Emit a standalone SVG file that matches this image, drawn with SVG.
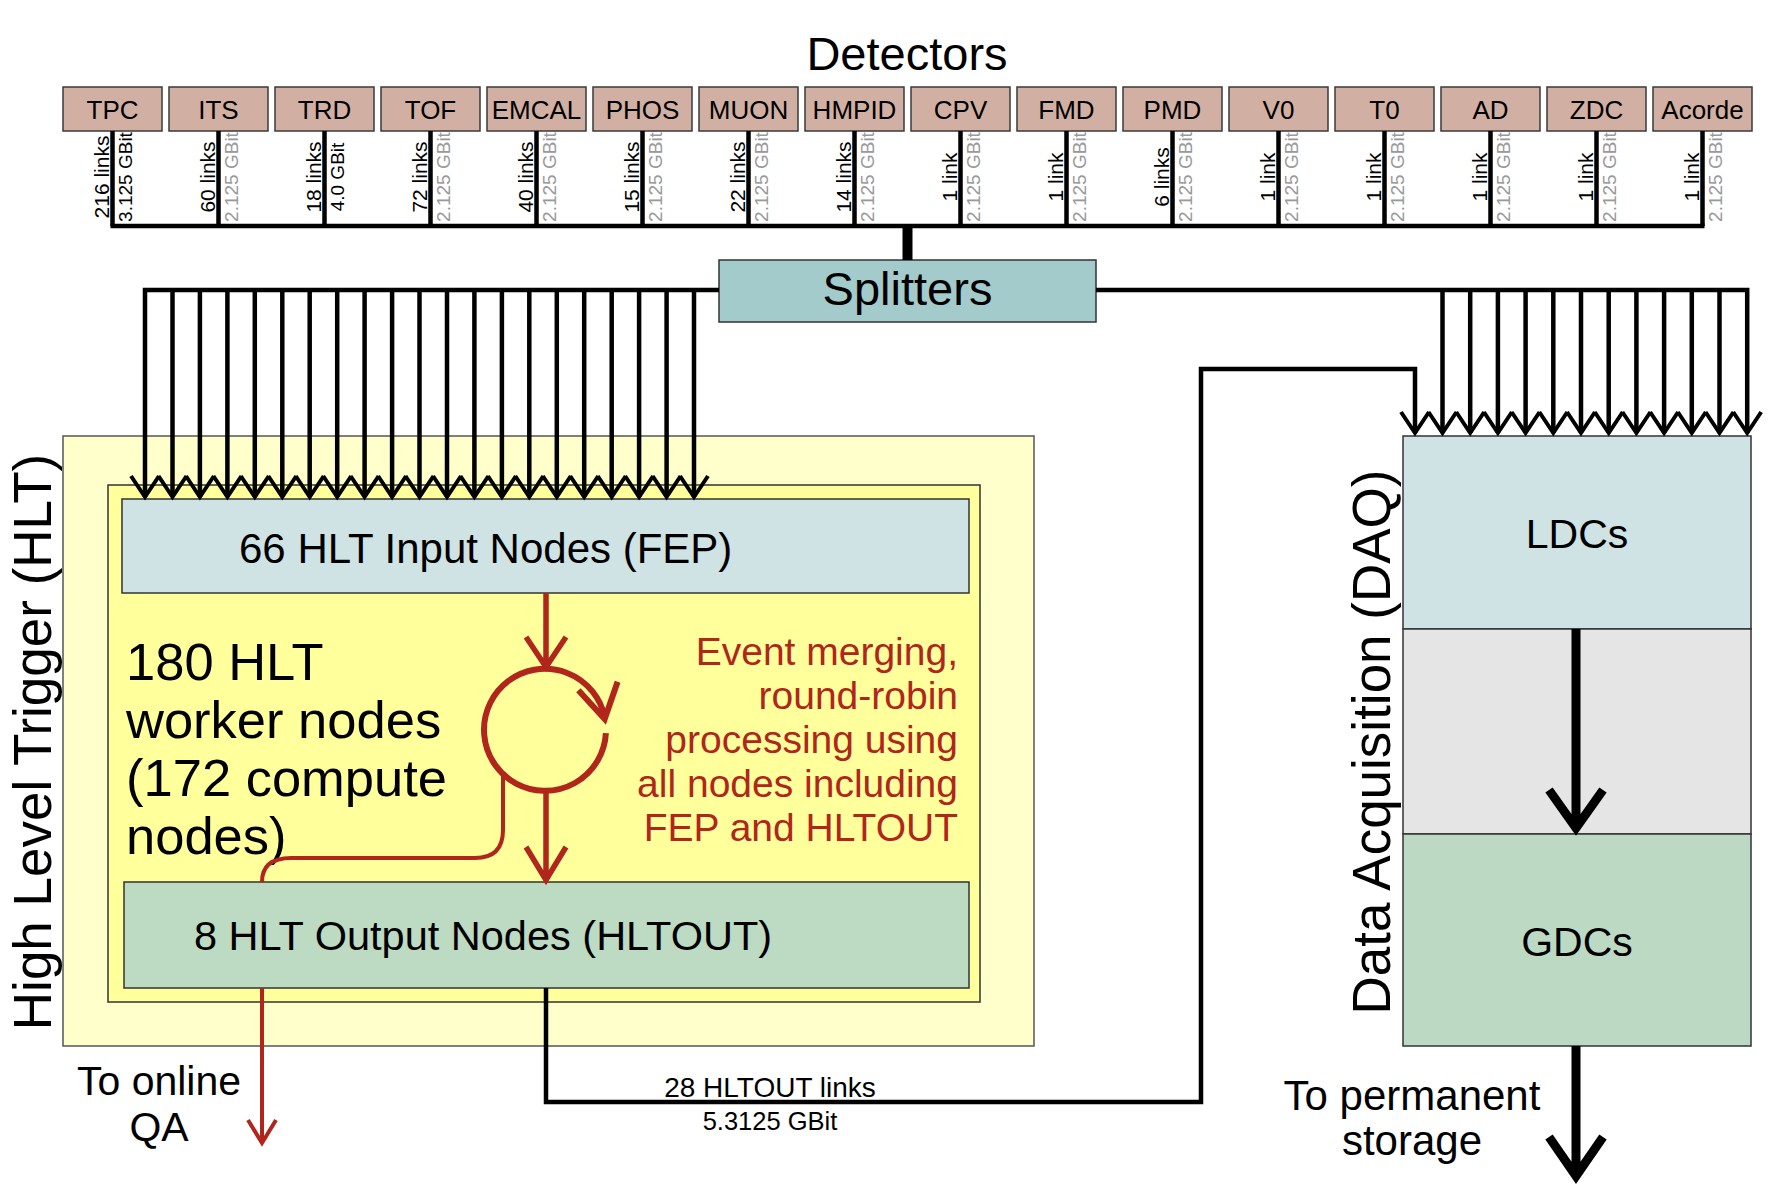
<svg xmlns="http://www.w3.org/2000/svg" xmlns:xlink="http://www.w3.org/1999/xlink" width="1768" height="1198" viewBox="0 0 1768 1198">
<style>
text { font-family: "Liberation Sans", Arial, sans-serif; fill:#000; }
.det rect { fill:#d1b0a3; stroke:#3a3a3a; stroke-width:1.5; }
.det text { font-size:26px; text-anchor:middle; }
.lk { font-size:21px; text-anchor:middle; }
.gb { font-size:19px; text-anchor:middle; fill:#999; }
.gbk { font-size:19px; text-anchor:middle; fill:#000; }
.box { stroke:#333; stroke-width:1.5; }
.blk { stroke:#000; fill:none; stroke-width:4.5; }
.chev { stroke:#000; fill:none; stroke-width:4; }
.red { stroke:#b0261c; fill:none; }
.redt { fill:#b0261c; font-size:39px; text-anchor:end; }
</style>
<defs>
<path id="chev" d="M-14 -21 L0 0 L14 -21" class="chev"/>
</defs>
<rect width="1768" height="1198" fill="#fff"/>

<text x="907" y="70" font-size="47" text-anchor="middle">Detectors</text>

<g id="detectors">
<g id="det-TPC" class="det"><rect x="63" y="87" width="99" height="44"/><text x="112.5" y="119">TPC</text></g>
<g id="det-ITS" class="det"><rect x="169" y="87" width="99" height="44"/><text x="218.5" y="119">ITS</text></g>
<g id="det-TRD" class="det"><rect x="275" y="87" width="99" height="44"/><text x="324.5" y="119">TRD</text></g>
<g id="det-TOF" class="det"><rect x="381" y="87" width="99" height="44"/><text x="430.5" y="119">TOF</text></g>
<g id="det-EMCAL" class="det"><rect x="487" y="87" width="99" height="44"/><text x="536.5" y="119">EMCAL</text></g>
<g id="det-PHOS" class="det"><rect x="593" y="87" width="99" height="44"/><text x="642.5" y="119">PHOS</text></g>
<g id="det-MUON" class="det"><rect x="699" y="87" width="99" height="44"/><text x="748.5" y="119">MUON</text></g>
<g id="det-HMPID" class="det"><rect x="805" y="87" width="99" height="44"/><text x="854.5" y="119">HMPID</text></g>
<g id="det-CPV" class="det"><rect x="911" y="87" width="99" height="44"/><text x="960.5" y="119">CPV</text></g>
<g id="det-FMD" class="det"><rect x="1017" y="87" width="99" height="44"/><text x="1066.5" y="119">FMD</text></g>
<g id="det-PMD" class="det"><rect x="1123" y="87" width="99" height="44"/><text x="1172.5" y="119">PMD</text></g>
<g id="det-V0" class="det"><rect x="1229" y="87" width="99" height="44"/><text x="1278.5" y="119">V0</text></g>
<g id="det-T0" class="det"><rect x="1335" y="87" width="99" height="44"/><text x="1384.5" y="119">T0</text></g>
<g id="det-AD" class="det"><rect x="1441" y="87" width="99" height="44"/><text x="1490.5" y="119">AD</text></g>
<g id="det-ZDC" class="det"><rect x="1547" y="87" width="99" height="44"/><text x="1596.5" y="119">ZDC</text></g>
<g id="det-Acorde" class="det"><rect x="1653" y="87" width="99" height="44"/><text x="1702.5" y="119">Acorde</text></g>
</g>

<g id="link-labels">
<text class="lk" transform="translate(109,177) rotate(-90)">216 links</text>
<text class="gbk" transform="translate(132,177) rotate(-90)">3.125 GBit</text>
<text class="lk" transform="translate(215,177) rotate(-90)">60 links</text>
<text class="gb" transform="translate(238,177) rotate(-90)">2.125 GBit</text>
<text class="lk" transform="translate(321,177) rotate(-90)">18 links</text>
<text class="gbk" transform="translate(344,177) rotate(-90)">4.0 GBit</text>
<text class="lk" transform="translate(427,177) rotate(-90)">72 links</text>
<text class="gb" transform="translate(450,177) rotate(-90)">2.125 GBit</text>
<text class="lk" transform="translate(533,177) rotate(-90)">40 links</text>
<text class="gb" transform="translate(556,177) rotate(-90)">2.125 GBit</text>
<text class="lk" transform="translate(639,177) rotate(-90)">15 links</text>
<text class="gb" transform="translate(662,177) rotate(-90)">2.125 GBit</text>
<text class="lk" transform="translate(745,177) rotate(-90)">22 links</text>
<text class="gb" transform="translate(768,177) rotate(-90)">2.125 GBit</text>
<text class="lk" transform="translate(851,177) rotate(-90)">14 links</text>
<text class="gb" transform="translate(874,177) rotate(-90)">2.125 GBit</text>
<text class="lk" transform="translate(957,177) rotate(-90)">1 link</text>
<text class="gb" transform="translate(980,177) rotate(-90)">2.125 GBit</text>
<text class="lk" transform="translate(1063,177) rotate(-90)">1 link</text>
<text class="gb" transform="translate(1086,177) rotate(-90)">2.125 GBit</text>
<text class="lk" transform="translate(1169,177) rotate(-90)">6 links</text>
<text class="gb" transform="translate(1192,177) rotate(-90)">2.125 GBit</text>
<text class="lk" transform="translate(1275,177) rotate(-90)">1 link</text>
<text class="gb" transform="translate(1298,177) rotate(-90)">2.125 GBit</text>
<text class="lk" transform="translate(1381,177) rotate(-90)">1 link</text>
<text class="gb" transform="translate(1404,177) rotate(-90)">2.125 GBit</text>
<text class="lk" transform="translate(1487,177) rotate(-90)">1 link</text>
<text class="gb" transform="translate(1510,177) rotate(-90)">2.125 GBit</text>
<text class="lk" transform="translate(1593,177) rotate(-90)">1 link</text>
<text class="gb" transform="translate(1616,177) rotate(-90)">2.125 GBit</text>
<text class="lk" transform="translate(1699,177) rotate(-90)">1 link</text>
<text class="gb" transform="translate(1722,177) rotate(-90)">2.125 GBit</text>
</g>

<g id="splitters">
<rect x="719" y="260" width="377" height="62" fill="#a3cbcb" class="box"/>
<text x="907.5" y="305" font-size="47" text-anchor="middle">Splitters</text>
</g>

<g id="hlt">
<rect x="63" y="436" width="971" height="610" fill="#ffffcc" stroke="#555" stroke-width="1.5"/>
<text transform="translate(51,742) rotate(-90)" font-size="53" text-anchor="middle">High Level Trigger (HLT)</text>
<g id="hlt-workers">
<rect x="108" y="485" width="872" height="517" fill="#ffff9c" class="box"/>
<text x="126" y="680" font-size="52.5">180 HLT</text>
<text x="126" y="738" font-size="52.5">worker nodes</text>
<text x="126" y="796" font-size="52.5">(172 compute</text>
<text x="126" y="854" font-size="52.5">nodes)</text>
<text class="redt" x="958" y="665">Event merging,</text>
<text class="redt" x="958" y="709">round-robin</text>
<text class="redt" x="958" y="753">processing using</text>
<text class="redt" x="958" y="797">all nodes including</text>
<text class="redt" x="958" y="841">FEP and HLTOUT</text>
</g>
<g id="hlt-fep">
<rect x="122" y="499" width="847" height="94" fill="#cfe2e4" class="box"/>
<text x="239" y="563" font-size="42">66 HLT Input Nodes (FEP)</text>
</g>
<g id="hlt-out">
<rect x="124" y="882" width="845" height="106" fill="#bddac2" class="box"/>
<text x="194" y="950" font-size="41.5">8 HLT Output Nodes (HLTOUT)</text>
</g>
</g>

<g id="daq">
<text transform="translate(1390,742) rotate(-90)" font-size="53" text-anchor="middle">Data Acquisition (DAQ)</text>
<g id="daq-ldc"><rect x="1403" y="436" width="348" height="193" fill="#cfe2e4" class="box"/><text x="1577" y="548" font-size="41" text-anchor="middle">LDCs</text></g>
<rect id="daq-gap" x="1403" y="629" width="348" height="205" fill="#e5e5e5" class="box"/>
<g id="daq-gdc"><rect x="1403" y="834" width="348" height="212" fill="#bcdac3" class="box"/><text x="1577" y="956" font-size="41" text-anchor="middle">GDCs</text></g>
</g>

<g id="free-labels">
<text x="159" y="1095" font-size="41" text-anchor="middle">To online</text>
<text x="159" y="1141" font-size="41" text-anchor="middle">QA</text>
<text x="1412" y="1110" font-size="42" text-anchor="middle">To permanent</text>
<text x="1412" y="1155" font-size="42" text-anchor="middle">storage</text>
<text x="770" y="1097" font-size="28" text-anchor="middle">28 HLTOUT links</text>
<text x="770" y="1130" font-size="25.5" text-anchor="middle">5.3125 GBit</text>
</g>

<g id="connectors">
<path class="blk" d="M112.5 131V226 M218.5 131V226 M324.5 131V226 M430.5 131V226 M536.5 131V226 M642.5 131V226 M748.5 131V226 M854.5 131V226 M960.5 131V226 M1066.5 131V226 M1172.5 131V226 M1278.5 131V226 M1384.5 131V226 M1490.5 131V226 M1596.5 131V226 M1702.5 131V226"/>
<path class="blk" stroke-width="5" d="M110.5 226H1704.5"/>
<path stroke="#000" stroke-width="10" d="M907.5 226V260"/>
<path class="blk" d="M719 290H145V497 M172.5 290V497 M199.9 290V497 M227.4 290V497 M254.8 290V497 M282.3 290V497 M309.7 290V497 M337.2 290V497 M364.6 290V497 M392.1 290V497 M419.5 290V497 M447 290V497 M474.4 290V497 M501.9 290V497 M529.3 290V497 M556.8 290V497 M584.2 290V497 M611.7 290V497 M639.1 290V497 M666.6 290V497 M694 290V497" stroke-width="4"/>
<g>
<use xlink:href="#chev" x="145" y="497"/><use xlink:href="#chev" x="172.5" y="497"/><use xlink:href="#chev" x="199.9" y="497"/><use xlink:href="#chev" x="227.4" y="497"/><use xlink:href="#chev" x="254.8" y="497"/><use xlink:href="#chev" x="282.3" y="497"/><use xlink:href="#chev" x="309.7" y="497"/><use xlink:href="#chev" x="337.2" y="497"/><use xlink:href="#chev" x="364.6" y="497"/><use xlink:href="#chev" x="392.1" y="497"/><use xlink:href="#chev" x="419.5" y="497"/><use xlink:href="#chev" x="447" y="497"/><use xlink:href="#chev" x="474.4" y="497"/><use xlink:href="#chev" x="501.9" y="497"/><use xlink:href="#chev" x="529.3" y="497"/><use xlink:href="#chev" x="556.8" y="497"/><use xlink:href="#chev" x="584.2" y="497"/><use xlink:href="#chev" x="611.7" y="497"/><use xlink:href="#chev" x="639.1" y="497"/><use xlink:href="#chev" x="666.6" y="497"/><use xlink:href="#chev" x="694" y="497"/>
</g>
<path class="blk" d="M1096 290H1747.2V433 M1442.5 290V433 M1470.2 290V433 M1497.9 290V433 M1525.6 290V433 M1553.3 290V433 M1581 290V433 M1608.7 290V433 M1636.4 290V433 M1664.1 290V433 M1691.8 290V433 M1719.5 290V433" stroke-width="4"/>
<path class="blk" d="M546 988V1102H1201V369H1415V433"/>
<g>
<use xlink:href="#chev" x="1415" y="433"/><use xlink:href="#chev" x="1442.5" y="433"/><use xlink:href="#chev" x="1470.2" y="433"/><use xlink:href="#chev" x="1497.9" y="433"/><use xlink:href="#chev" x="1525.6" y="433"/><use xlink:href="#chev" x="1553.3" y="433"/><use xlink:href="#chev" x="1581" y="433"/><use xlink:href="#chev" x="1608.7" y="433"/><use xlink:href="#chev" x="1636.4" y="433"/><use xlink:href="#chev" x="1664.1" y="433"/><use xlink:href="#chev" x="1691.8" y="433"/><use xlink:href="#chev" x="1719.5" y="433"/><use xlink:href="#chev" x="1747.2" y="433"/>
</g>
<path stroke="#000" stroke-width="9" fill="none" d="M1576 629V826 M1549 790L1576 828L1603 790"/>
<path stroke="#000" stroke-width="9" fill="none" d="M1576 1046V1176 M1549 1137L1576 1176L1603 1137"/>
<path class="red" stroke-width="5.5" d="M546 593V666 M526 637L546 667L566 637"/>
<path class="red" stroke-width="6" d="M605.9 733.2A61 61 0 1 1 604.7 717.3"/>
<path class="red" stroke-width="6" d="M578.4 690.2L604.7 719L617.6 681.8"/>
<path class="red" stroke-width="5.5" d="M546 791V879 M526 847L546 880L566 847"/>
<path class="red" stroke-width="4" d="M503 774V830Q503 858 475 858H291Q262 858 262 882"/>
<path class="red" stroke-width="4" d="M262 988V1142 M248 1120L262 1143L276 1120"/>
</g>
</svg>
